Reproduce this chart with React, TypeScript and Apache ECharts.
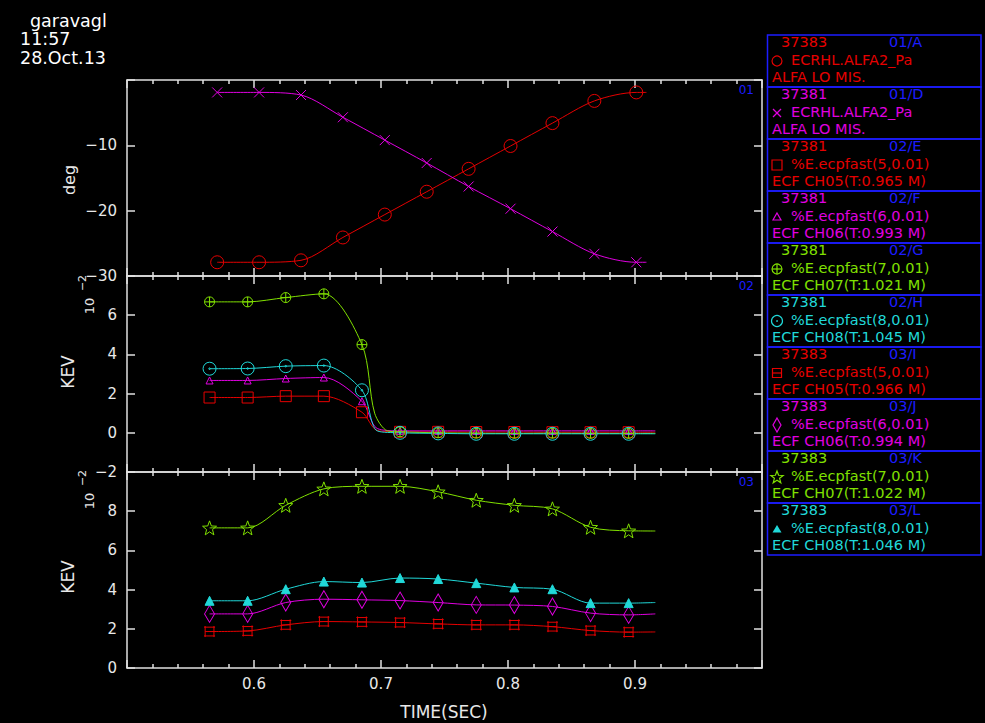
import React, { useEffect, useRef } from 'react';
import * as echarts from 'echarts';

// ---------- colours ----------
const RED = '#e60000';
const MAG = '#e000e0';
const GRN = '#80e000';
const CYN = '#20d8d8';
const BLUE = '#1c1cff';
const AX = '#e0e0e0';
const TXT = '#e8e8e8';

// ---------- header ----------
const headerLines = ['garavagl', '11:57', '28.Oct.13'];

// ---------- axes ----------
const xTickLabels = [0.6, 0.7, 0.8, 0.9];
const panelYMin = [-30, -2, 0];
const panelYMax = [0, 8, 10];
const panelYStep = [10, 2, 2];
const panelYName = ['deg', 'KEV', 'KEV'];
const panelTag = ['01', '02', '03'];

// ---------- panel 1 (deg) ----------
const p1X = [0.571, 0.604, 0.637, 0.670, 0.703, 0.736, 0.769, 0.802, 0.835, 0.868, 0.901];
const p1Red = [-27.9, -27.9, -27.6, -24.1, -20.6, -17.1, -13.6, -10.1, -6.6, -3.2, -1.9];
const p1Mag = [-1.9, -1.9, -2.3, -5.7, -9.2, -12.7, -16.3, -19.7, -23.2, -26.6, -27.9];
const p1EndX = 0.909;
const p1RedEnd = -1.9;
const p1MagEnd = -27.9;

// ---------- panels 2 & 3 (KEV x 10^-2) ----------
const p23X = [0.565, 0.595, 0.625, 0.655, 0.685, 0.715, 0.745, 0.775, 0.805, 0.835, 0.865, 0.895];
const p23EndX = 0.916;

const p2Red = [1.8, 1.8, 1.87, 1.87, 1.05, 0.05, 0.05, 0.04, 0.04, 0.03, 0.03, 0.03];
const p2Mag = [2.67, 2.67, 2.77, 2.82, 1.61, 0.1, 0.1, 0.1, 0.1, 0.1, 0.1, 0.1];
const p2Grn = [6.68, 6.68, 6.9, 7.09, 4.5, 0.05, 0.0, -0.02, -0.03, -0.02, -0.03, -0.03];
const p2Cyn = [3.27, 3.28, 3.4, 3.43, 2.17, 0.0, -0.03, -0.05, -0.05, -0.05, -0.05, -0.05];
const p2RedEnd = 0.03;
const p2MagEnd = 0.1;
const p2GrnEnd = -0.03;
const p2CynEnd = -0.05;
// knee of the fast drop (points on the line, no marker)
const p2RedKnee: [number, number][] = [[0.697, 0.12]];
const p2MagKnee: [number, number][] = [[0.697, 0.22]];
const p2GrnKnee: [number, number][] = [[0.695, 1.0], [0.705, 0.1]];
const p2CynKnee: [number, number][] = [[0.697, 0.1]];

const p3Grn = [7.15, 7.15, 8.3, 9.14, 9.27, 9.27, 8.99, 8.56, 8.3, 8.12, 7.18, 7.0];
const p3Cyn = [3.43, 3.43, 4.02, 4.41, 4.36, 4.59, 4.54, 4.33, 4.11, 4.02, 3.31, 3.31];
const p3Mag = [2.76, 2.76, 3.34, 3.51, 3.48, 3.44, 3.34, 3.22, 3.21, 3.14, 2.8, 2.71];
const p3Red = [1.86, 1.89, 2.2, 2.37, 2.35, 2.32, 2.25, 2.2, 2.2, 2.11, 1.91, 1.83];
const p3GrnEnd = 6.99;
const p3CynEnd = 3.34;
const p3MagEnd = 2.76;
const p3RedEnd = 1.84;

// ---------- legend ----------
const legendShot = ['37383', '37381', '37381', '37381', '37381', '37381', '37383', '37383', '37383', '37383'];
const legendCode = ['01/A', '01/D', '02/E', '02/F', '02/G', '02/H', '03/I', '03/J', '03/K', '03/L'];
const legendSignal = [
  'ECRHL.ALFA2_Pa', 'ECRHL.ALFA2_Pa',
  '%E.ecpfast(5,0.01)', '%E.ecpfast(6,0.01)', '%E.ecpfast(7,0.01)', '%E.ecpfast(8,0.01)',
  '%E.ecpfast(5,0.01)', '%E.ecpfast(6,0.01)', '%E.ecpfast(7,0.01)', '%E.ecpfast(8,0.01)',
];
const legendDesc = [
  'ALFA LO MIS.', 'ALFA LO MIS.',
  'ECF CH05(T:0.965 M)', 'ECF CH06(T:0.993 M)', 'ECF CH07(T:1.021 M)', 'ECF CH08(T:1.045 M)',
  'ECF CH05(T:0.966 M)', 'ECF CH06(T:0.994 M)', 'ECF CH07(T:1.022 M)', 'ECF CH08(T:1.046 M)',
];
const legendColor = [RED, MAG, RED, MAG, GRN, CYN, RED, MAG, GRN, CYN];
const legendMark = ['circle', 'x', 'square', 'tri', 'oplus', 'odot', 'boxh', 'diamond', 'star', 'trifill'];

// ---------- symbol shapes ----------
const SYM_CIRCLE = 'path://M0,-1A1,1,0,1,1,0,1A1,1,0,1,1,0,-1Z';
const SYM_X = 'path://M-1,-1L1,1M1,-1L-1,1';
const SYM_OPLUS = 'path://M0,-1A1,1,0,1,1,0,1A1,1,0,1,1,0,-1ZM-1,0L1,0M0,-1L0,1';
const SYM_ODOT = 'path://M0,-1A1,1,0,1,1,0,1A1,1,0,1,1,0,-1ZM0,-0.12A0.12,0.12,0,1,1,0,0.12A0.12,0.12,0,1,1,0,-0.12Z';
const SYM_BOXH = 'path://M-1,-0.8L1,-0.8M-1,0.8L1,0.8M-0.8,-1L-0.8,1M0.8,-1L0.8,1M-0.8,0L0.8,0';
const starPts = (() => {
  const p: [number, number][] = [];
  for (let k = 0; k < 10; k++) {
    const a = (-90 + 36 * k) * Math.PI / 180;
    const r = k % 2 === 0 ? 1 : 0.42;
    p.push([r * Math.cos(a), r * Math.sin(a)]);
  }
  return p;
})();
const SYM_STAR = 'path://M' + starPts.map((q) => q[0].toFixed(3) + ',' + q[1].toFixed(3)).join('L') + 'Z';

const GRID_LEFT = 127;
const GRID_W = 635;
const GRID_TOP = 80;
const GRID_H = 196;

function buildSeries(
  gi: number, xs: number[], ys: number[], endX: number, endY: number,
  knees: [number, number][], color: string, symbol: string, size: any, filled: boolean,
) {
  const pts: any[] = xs.map((x, i) => ({ value: [x, ys[i]] }));
  knees.forEach((k) => pts.push({ value: [k[0], k[1]], symbol: 'none' }));
  pts.push({ value: [endX, endY], symbol: 'none' });
  pts.sort((a, b) => a.value[0] - b.value[0]);
  return {
    type: 'line',
    xAxisIndex: gi * 2,
    yAxisIndex: gi * 2,
    data: pts,
    smooth: 0.3,
    symbol,
    symbolSize: size,
    showAllSymbol: true,
    silent: true,
    emphasis: { disabled: true },
    lineStyle: { color, width: 1 },
    itemStyle: { color: filled ? color : 'rgba(0,0,0,0)', borderColor: color, borderWidth: 1 },
  };
}

function legendSymbol(kind: string, cx: number, cy: number, color: string): any[] {
  const st = { fill: 'none', stroke: color, lineWidth: 1.2 };
  switch (kind) {
    case 'circle':
      return [{ type: 'circle', shape: { cx, cy, r: 5 }, style: st }];
    case 'x':
      return [
        { type: 'line', shape: { x1: cx - 4, y1: cy - 4, x2: cx + 4, y2: cy + 4 }, style: st },
        { type: 'line', shape: { x1: cx + 4, y1: cy - 4, x2: cx - 4, y2: cy + 4 }, style: st },
      ];
    case 'square':
      return [{ type: 'rect', shape: { x: cx - 5, y: cy - 5, width: 10, height: 10 }, style: st }];
    case 'tri':
      return [{ type: 'polygon', shape: { points: [[cx, cy - 4], [cx + 4, cy + 3], [cx - 4, cy + 3]] }, style: st }];
    case 'oplus':
      return [
        { type: 'circle', shape: { cx, cy, r: 5 }, style: st },
        { type: 'line', shape: { x1: cx - 5, y1: cy, x2: cx + 5, y2: cy }, style: st },
        { type: 'line', shape: { x1: cx, y1: cy - 5, x2: cx, y2: cy + 5 }, style: st },
      ];
    case 'odot':
      return [
        { type: 'circle', shape: { cx, cy, r: 5.5 }, style: st },
        { type: 'circle', shape: { cx, cy, r: 0.8 }, style: { fill: color } },
      ];
    case 'boxh':
      return [
        { type: 'rect', shape: { x: cx - 4.5, y: cy - 4.5, width: 9, height: 9 }, style: st },
        { type: 'line', shape: { x1: cx - 4.5, y1: cy, x2: cx + 4.5, y2: cy }, style: st },
      ];
    case 'diamond':
      return [{ type: 'polygon', shape: { points: [[cx, cy - 7], [cx + 4, cy], [cx, cy + 7], [cx - 4, cy]] }, style: st }];
    case 'star':
      return [{ type: 'polygon', shape: { points: starPts.map((q) => [cx + q[0] * 6.5, cy + q[1] * 6.5 + 0.5]) }, style: st }];
    case 'trifill':
      return [{ type: 'polygon', shape: { points: [[cx, cy - 4], [cx + 4.5, cy + 3.5], [cx - 4.5, cy + 3.5]] }, style: { fill: color } }];
  }
  return [];
}

function txt(text: string, x: number, y: number, color: string, size: number, align = 'left', family = 'DejaVu Sans', rotation = 0): any {
  return {
    type: 'text',
    x, y, rotation,
    silent: true,
    style: {
      text, fill: color, fontSize: size, fontFamily: family,
      textAlign: align, textVerticalAlign: 'middle', align, verticalAlign: 'middle',
    },
  };
}

export default function App() {
  const ref = useRef<HTMLDivElement>(null);

  useEffect(() => {
    document.body.style.margin = '0';
    document.body.style.background = '#000';
    const chart = echarts.init(ref.current!, null, { renderer: 'svg' });

    const grids: any[] = [];
    const xAxes: any[] = [];
    const yAxes: any[] = [];
    for (let gi = 0; gi < 3; gi++) {
      grids.push({ left: GRID_LEFT, top: GRID_TOP + GRID_H * gi, width: GRID_W, height: GRID_H, containLabel: false });
      const xBase: any = {
        type: 'value', gridIndex: gi, min: 0.5, max: 1.0, interval: 0.1,
        axisLine: { show: true, onZero: false, lineStyle: { color: AX, width: 1.5 } },
        axisTick: { show: true, inside: true, length: 8, lineStyle: { color: AX, width: 1.5 } },
        minorTick: { show: true, splitNumber: 5, length: 4, lineStyle: { color: AX, width: 1.5 } },
        splitLine: { show: false },
        minorSplitLine: { show: false },
      };
      xAxes.push({
        ...xBase, position: 'bottom',
        axisLabel: {
          show: gi === 2, color: TXT, fontSize: 15, fontFamily: 'DejaVu Sans', margin: 8,
          formatter: (v: number) => {
            const hit = xTickLabels.find((t) => Math.abs(t - v) < 1e-6);
            return hit !== undefined ? hit.toFixed(1) : '';
          },
        },
      });
      xAxes.push({ ...xBase, position: 'top', axisLabel: { show: false } });

      const yBase: any = {
        type: 'value', gridIndex: gi, min: panelYMin[gi], max: panelYMax[gi], interval: panelYStep[gi],
        axisLine: { show: true, onZero: false, lineStyle: { color: AX, width: 1.5 } },
        axisTick: { show: true, inside: true, length: 8, lineStyle: { color: AX, width: 1.5 } },
        splitLine: { show: false },
      };
      const ymax = panelYMax[gi];
      yAxes.push({
        ...yBase, position: 'left',
        axisLabel: {
          show: true, color: TXT, fontSize: 15, fontFamily: 'DejaVu Sans', margin: 10,
          formatter: (v: number) => {
            if (Math.abs(v - ymax) < 1e-6) return '';
            const r = Math.round(v);
            return r < 0 ? '\u2212' + Math.abs(r) : String(r);
          },
        },
      });
      yAxes.push({ ...yBase, position: 'right', axisLabel: { show: false } });
    }

    const series: any[] = [
      buildSeries(0, p1X, p1Red, p1EndX, p1RedEnd, [], RED, SYM_CIRCLE, 13, false),
      buildSeries(0, p1X, p1Mag, p1EndX, p1MagEnd, [], MAG, SYM_X, 10, false),

      buildSeries(1, p23X, p2Red, p23EndX, p2RedEnd, p2RedKnee, RED, 'rect', 11, false),
      buildSeries(1, p23X, p2Mag, p23EndX, p2MagEnd, p2MagKnee, MAG, 'triangle', 7, false),
      buildSeries(1, p23X, p2Grn, p23EndX, p2GrnEnd, p2GrnKnee, GRN, SYM_OPLUS, 10, false),
      buildSeries(1, p23X, p2Cyn, p23EndX, p2CynEnd, p2CynKnee, CYN, SYM_ODOT, 13, false),

      buildSeries(2, p23X, p3Red, p23EndX, p3RedEnd, [], RED, SYM_BOXH, 11, false),
      buildSeries(2, p23X, p3Mag, p23EndX, p3MagEnd, [], MAG, 'diamond', [10, 17], false),
      buildSeries(2, p23X, p3Grn, p23EndX, p3GrnEnd, [], GRN, SYM_STAR, 14, false),
      buildSeries(2, p23X, p3Cyn, p23EndX, p3CynEnd, [], CYN, 'triangle', 9, true),
    ];

    const graphics: any[] = [];
    // header
    graphics.push(txt(headerLines[0], 30, 21, '#ffffff', 17.5));
    graphics.push(txt(headerLines[1], 20, 39, '#ffffff', 17.5));
    graphics.push(txt(headerLines[2], 20, 58, '#ffffff', 17.5));

    // axis names
    graphics.push(txt(panelYName[0], 69, 180, TXT, 16, 'center', 'DejaVu Sans', Math.PI / 2));
    graphics.push(txt(panelYName[1], 68, 372, TXT, 17, 'center', 'DejaVu Sans', Math.PI / 2));
    graphics.push(txt(panelYName[2], 68, 577, TXT, 17, 'center', 'DejaVu Sans', Math.PI / 2));
    // 10^-2 multipliers
    graphics.push(txt('10', 89.5, 306, TXT, 13, 'center', 'DejaVu Sans', Math.PI / 2));
    graphics.push(txt('\u22122', 82, 283, TXT, 11, 'center', 'DejaVu Sans', Math.PI / 2));
    graphics.push(txt('10', 89.5, 501, TXT, 13, 'center', 'DejaVu Sans', Math.PI / 2));
    graphics.push(txt('\u22122', 82, 478, TXT, 11, 'center', 'DejaVu Sans', Math.PI / 2));
    // x axis title
    graphics.push(txt('TIME(SEC)', 444, 712, TXT, 17, 'center'));
    // panel tags
    for (let gi = 0; gi < 3; gi++) {
      graphics.push(txt(panelTag[gi], 754, GRID_TOP + GRID_H * gi + 10, BLUE, 12, 'right'));
    }

    // legend
    const LX = 767.5;
    const LW = 213.5;
    const LH = 52;
    const LY = 35;
    for (let i = 0; i < legendShot.length; i++) {
      const top = LY + LH * i;
      const c = legendColor[i];
      graphics.push({
        type: 'rect', silent: true,
        shape: { x: LX, y: top, width: LW, height: LH },
        style: { fill: 'none', stroke: BLUE, lineWidth: 1.5 },
      });
      graphics.push(txt(legendShot[i], 781, top + 7, c, 14.5));
      graphics.push(txt(legendCode[i], 889, top + 7, BLUE, 14.5));
      legendSymbol(legendMark[i], 777, top + 26, c).forEach((e) => { e.silent = true; graphics.push(e); });
      graphics.push(txt(legendSignal[i], 791, top + 25, c, 14.5));
      graphics.push(txt(legendDesc[i], 772, top + 42, c, 14.5));
    }

    chart.setOption({
      animation: false,
      backgroundColor: '#000000',
      grid: grids,
      xAxis: xAxes,
      yAxis: yAxes,
      series,
      graphic: { elements: graphics },
    });

    return () => chart.dispose();
  }, []);

  return (
    <div
      ref={ref}
      style={{ position: 'fixed', left: 0, top: 0, width: 985, height: 723, background: '#000' }}
    />
  );
}
